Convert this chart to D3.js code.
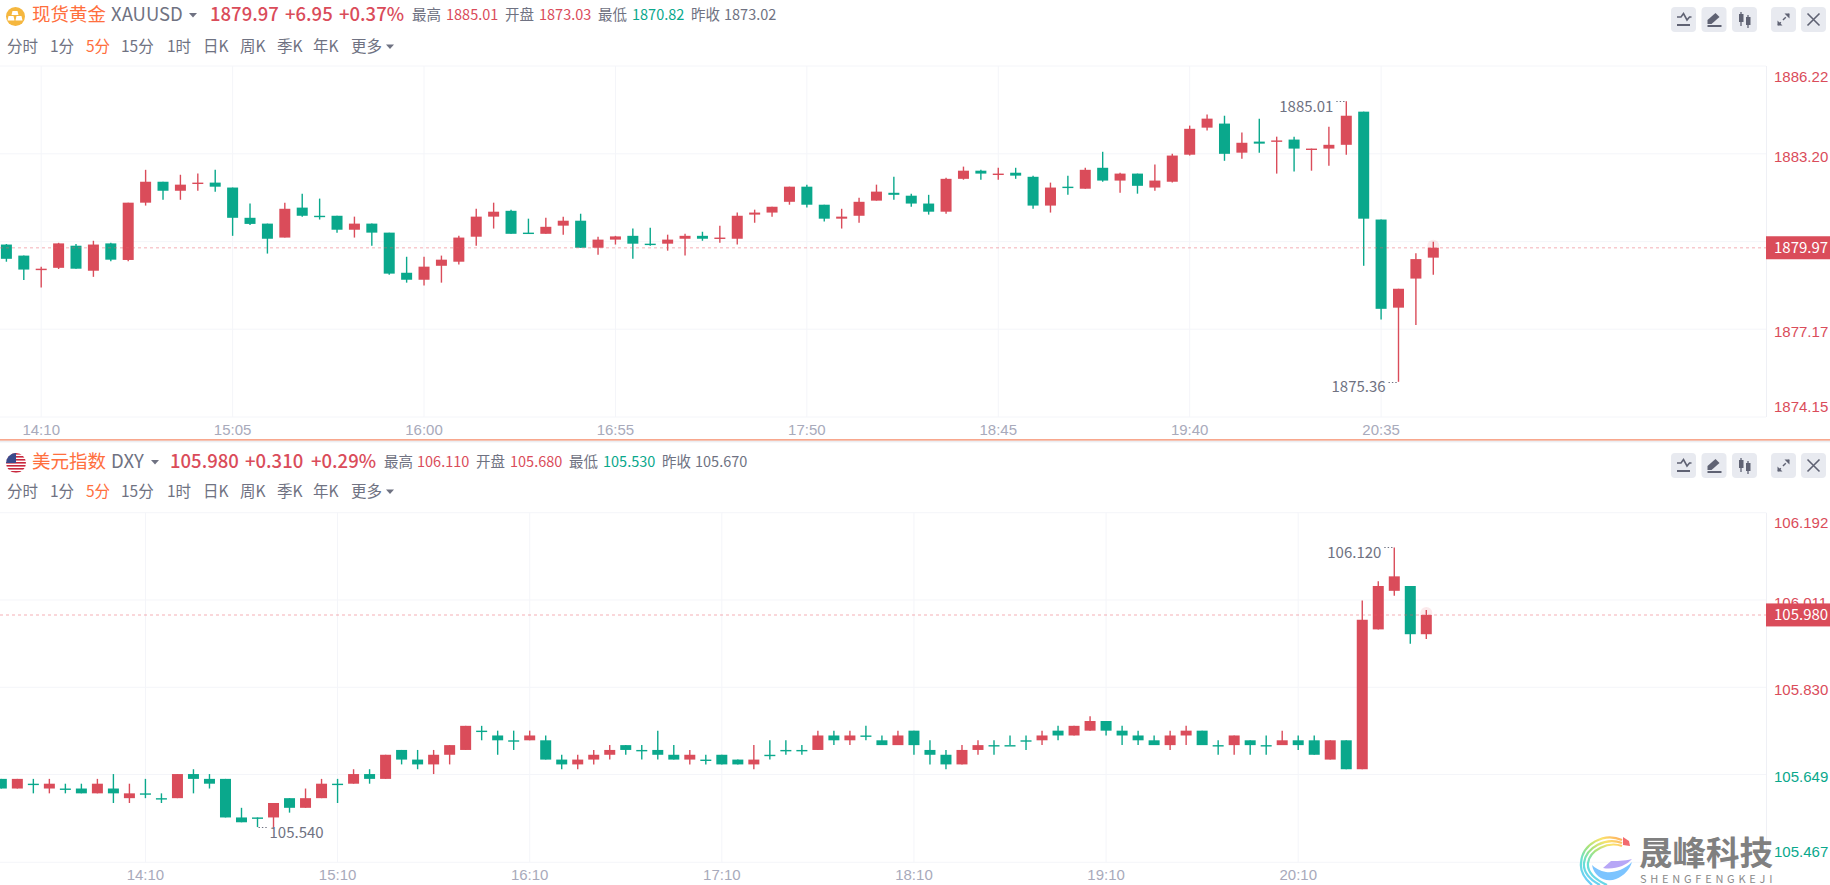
<!DOCTYPE html>
<html>
<head>
<meta charset="utf-8">
<script src="https://cdnjs.cloudflare.com/ajax/libs/d3/7.8.5/d3.min.js"></script>
<style>
  html, body { margin: 0; padding: 0; background: #fff; overflow: hidden; }
  svg { display: block; font-family: "Noto Sans CJK SC", "Noto Sans", sans-serif; }
</style>
</head>
<body>
<svg id="chart" width="1830" height="885"></svg>
<script>
// gold, 5 min candles
const goldOpen = [1880.08,1879.70,1879.20,1879.28,1880.04,1879.18,1880.12,1879.55,1881.52,1882.24,
  1881.93,1882.17,1882.21,1882.04,1881.00,1880.80,1880.32,1881.35,1881.07,1881.07,
  1880.59,1880.80,1880.49,1879.11,1878.87,1879.35,1879.49,1880.35,1881.04,1881.24,
  1880.49,1880.45,1880.73,1880.90,1879.97,1880.25,1880.38,1880.11,1880.11,1880.28,
  1880.38,1880.28,1880.28,1881.11,1881.18,1881.55,1882.07,1881.45,1880.97,1881.07,
  1881.59,1881.86,1881.76,1881.49,1881.21,1882.34,1882.62,1882.48,1882.55,1882.41,
  1881.42,1882.07,1882.00,1882.72,1882.28,1882.52,1882.04,1882.24,1883.17,1884.10,
  1884.24,1883.24,1883.62,1883.62,1883.69,1883.34,1883.38,1883.51,1884.65,1880.94,
  1877.91,1878.91,1879.63];
const goldClose = [1879.59,1879.22,1879.25,1880.12,1879.25,1880.08,1879.56,1881.52,1882.24,1881.93,
  1882.14,1882.21,1882.07,1881.00,1880.79,1880.28,1881.31,1881.07,1881.04,1880.59,
  1880.80,1880.49,1879.08,1878.87,1879.32,1879.56,1880.32,1881.04,1881.21,1880.45,
  1880.45,1880.69,1880.90,1879.97,1880.25,1880.36,1880.11,1880.08,1880.25,1880.38,
  1880.28,1880.32,1881.07,1881.18,1881.38,1882.07,1881.45,1880.97,1881.04,1881.55,
  1881.90,1881.79,1881.49,1881.21,1882.34,1882.62,1882.52,1882.52,1882.45,1881.42,
  1882.04,1882.04,1882.65,1882.28,1882.52,1882.10,1882.28,1883.14,1884.06,1884.41,
  1883.20,1883.58,1883.55,1883.66,1883.38,1883.38,1883.51,1884.51,1880.97,1877.87,
  1878.56,1879.58,1879.97];
const goldHigh = [1880.10,1879.70,1879.32,1880.14,1880.10,1880.21,1880.14,1881.52,1882.65,1882.24,
  1882.48,1882.52,1882.65,1882.04,1881.49,1880.80,1881.52,1881.83,1881.66,1881.07,
  1881.04,1880.80,1880.49,1879.66,1879.66,1879.70,1880.38,1881.31,1881.52,1881.28,
  1880.97,1881.00,1881.04,1881.14,1880.35,1880.38,1880.63,1880.66,1880.42,1880.45,
  1880.52,1880.73,1881.18,1881.28,1881.38,1882.07,1882.14,1881.45,1881.31,1881.69,
  1882.14,1882.41,1881.83,1881.79,1882.38,1882.76,1882.65,1882.72,1882.72,1882.45,
  1882.21,1882.45,1882.72,1883.27,1882.55,1882.52,1882.83,1883.20,1884.17,1884.55,
  1884.51,1883.93,1884.41,1883.79,1883.79,1883.38,1884.13,1885.01,1884.65,1880.94,
  1878.56,1879.78,1880.18];
const goldLow = [1879.49,1878.86,1878.60,1879.24,1879.25,1878.97,1879.51,1879.51,1881.42,1881.62,
  1881.62,1881.93,1881.90,1880.38,1880.75,1879.77,1880.32,1881.04,1880.94,1880.49,
  1880.32,1880.04,1879.04,1878.77,1878.67,1878.77,1879.39,1880.04,1880.63,1880.45,
  1880.45,1880.45,1880.42,1879.97,1879.73,1880.08,1879.59,1880.04,1879.87,1879.70,
  1880.21,1880.14,1880.08,1880.83,1881.04,1881.45,1881.35,1880.87,1880.63,1880.83,
  1881.59,1881.62,1881.38,1881.11,1881.14,1882.31,1882.31,1882.31,1882.34,1881.31,
  1881.18,1881.79,1882.00,1882.24,1881.86,1881.83,1881.93,1882.21,1883.14,1884.00,
  1882.96,1883.03,1883.24,1882.52,1882.59,1882.62,1882.79,1883.17,1879.35,1877.50,
  1875.36,1877.31,1879.04];
const goldPriceTicks = [1886.22, 1883.20, 1880.18, 1877.17, 1874.15];
const goldTimeIndex = [2, 13, 24, 35, 46, 57, 68, 79];
const goldTimeLabels = ["14:10", "15:05", "16:00", "16:55", "17:50", "18:45", "19:40", "20:35"];

// dollar index, 5 min candles
const dxyOpen = [105.64,105.62,105.63,105.62,105.62,105.62,105.61,105.62,105.60,105.61,
  105.60,105.60,105.65,105.64,105.64,105.56,105.56,105.56,105.60,105.58,
  105.60,105.63,105.63,105.65,105.64,105.70,105.68,105.67,105.69,105.70,
  105.74,105.73,105.72,105.72,105.72,105.68,105.67,105.68,105.69,105.71,
  105.70,105.70,105.69,105.68,105.68,105.69,105.68,105.67,105.69,105.70,
  105.70,105.70,105.73,105.72,105.73,105.72,105.71,105.74,105.70,105.69,
  105.67,105.70,105.71,105.71,105.72,105.72,105.74,105.73,105.74,105.76,
  105.74,105.73,105.72,105.71,105.73,105.74,105.71,105.71,105.72,105.71,
  105.71,105.72,105.72,105.68,105.72,105.66,105.95,106.03,106.04,105.94];
const dxyClose = [105.62,105.64,105.63,105.63,105.62,105.61,105.63,105.61,105.61,105.61,
  105.60,105.65,105.64,105.63,105.56,105.55,105.56,105.59,105.58,105.60,
  105.63,105.63,105.65,105.64,105.69,105.68,105.67,105.69,105.71,105.75,
  105.74,105.72,105.72,105.73,105.68,105.67,105.68,105.69,105.70,105.70,
  105.70,105.69,105.68,105.69,105.68,105.67,105.67,105.68,105.69,105.70,
  105.70,105.73,105.72,105.73,105.73,105.71,105.73,105.71,105.69,105.67,
  105.70,105.71,105.71,105.71,105.72,105.73,105.73,105.75,105.76,105.74,
  105.73,105.72,105.71,105.73,105.74,105.71,105.71,105.73,105.71,105.71,
  105.72,105.71,105.69,105.72,105.66,105.97,106.04,106.06,105.94,105.98];
const dxyHigh = [105.64,105.64,105.64,105.64,105.63,105.63,105.64,105.65,105.63,105.64,
  105.61,105.65,105.66,105.65,105.64,105.58,105.56,105.59,105.60,105.62,
  105.64,105.64,105.66,105.66,105.69,105.70,105.70,105.70,105.71,105.75,
  105.75,105.74,105.74,105.74,105.73,105.69,105.69,105.70,105.71,105.71,
  105.71,105.74,105.71,105.70,105.69,105.69,105.68,105.71,105.72,105.72,
  105.71,105.74,105.74,105.74,105.75,105.73,105.74,105.74,105.72,105.70,
  105.71,105.72,105.72,105.73,105.73,105.74,105.75,105.75,105.77,105.76,
  105.75,105.74,105.73,105.74,105.75,105.74,105.72,105.73,105.72,105.73,
  105.74,105.73,105.73,105.72,105.72,106.01,106.05,106.12,106.04,105.99];
const dxyLow = [105.62,105.62,105.61,105.61,105.61,105.61,105.61,105.59,105.59,105.60,
  105.59,105.60,105.61,105.62,105.56,105.55,105.54,105.54,105.57,105.58,
  105.60,105.59,105.63,105.63,105.64,105.67,105.66,105.65,105.67,105.70,
  105.72,105.69,105.70,105.72,105.68,105.66,105.66,105.67,105.68,105.69,
  105.68,105.68,105.68,105.67,105.67,105.67,105.67,105.66,105.68,105.69,
  105.69,105.70,105.71,105.71,105.72,105.71,105.71,105.69,105.67,105.66,
  105.67,105.69,105.69,105.71,105.70,105.71,105.72,105.73,105.74,105.73,
  105.71,105.71,105.71,105.70,105.71,105.71,105.69,105.69,105.69,105.69,
  105.71,105.70,105.69,105.68,105.66,105.66,105.95,106.02,105.92,105.93];
const dxyPriceTicks = [106.192, 106.011, 105.83, 105.649, 105.467];
const dxyTimeIndex = [9, 21, 33, 45, 57, 69, 81];
const dxyTimeLabels = ["14:10", "15:10", "16:10", "17:10", "18:10", "19:10", "20:10"];

const intervalLabels = ["分时", "1分", "5分", "15分", "1时", "日K", "周K", "季K", "年K", "更多"];

const goldHeader = ["现货黄金", "XAUUSD", "1879.97", "+6.95", "+0.37%", "最高", "1885.01", "开盘", "1873.03", "最低", "1870.82", "昨收", "1873.02"];
const dxyHeader = ["美元指数", "DXY", "105.980", "+0.310", "+0.29%", "最高", "106.110", "开盘", "105.680", "最低", "105.530", "昨收", "105.670"];

const red = "#da4c5a",
  green = "#0aa88c",
  orange = "#ff6f3d",
  gray = "#6f7282",
  timeGray = "#a8aabb",
  gridColor = "#f4f5f9";

const svg = d3.select("#chart");
const plotWidth = 1766;

function drawPanel(cfg) {
  const g = svg.append("g");
  const y = d3.scaleLinear().domain(cfg.yDomain).range(cfg.yRange);
  const x = d3.scaleLinear().domain(cfg.xDomain).range(cfg.xRange);
  const [bottom, top] = cfg.yRange;

  // price axis doubles as the horizontal grid
  const yAxis = d3
    .axisRight(y)
    .offset(0)
    .tickValues(cfg.priceTicks)
    .tickSize(-plotWidth)
    .tickPadding(8)
    .tickFormat((d) => d.toFixed(cfg.digits));
  const yG = g.append("g").attr("transform", `translate(${plotWidth},0)`).call(yAxis);
  yG.select(".domain").remove();
  yG.selectAll("line").attr("stroke", gridColor);
  const labelShift = [11, 3, 3, 3, -10];
  yG.selectAll("text")
    .attr("y", (d, i) => labelShift[i])
    .attr("fill", (d) => (d >= cfg.prevClose ? red : green))
    .style("font-size", "15px")
    .style("font-family", "inherit");

  const xAxis = d3
    .axisBottom(x)
    .offset(0)
    .tickValues(cfg.timeIndex)
    .tickSize(-(bottom - top))
    .tickPadding(7)
    .tickFormat((d, i) => cfg.timeLabels[i]);
  const xG = g.append("g").attr("transform", `translate(0,${bottom})`).call(xAxis);
  xG.select(".domain").remove();
  xG.selectAll("line").attr("stroke", gridColor);
  xG.selectAll("text").attr("fill", timeGray).style("font-size", "15px").style("font-family", "inherit");

  g.append("line")
    .attr("x1", plotWidth + 0.5)
    .attr("x2", plotWidth + 0.5)
    .attr("y1", top)
    .attr("y2", bottom)
    .attr("stroke", "#eff0f5");

  const candles = cfg.open.map((o, i) => ({
    i,
    o,
    c: cfg.close[i],
    h: cfg.high[i],
    l: cfg.low[i],
  }));
  const colorOf = (d) => (d.c > d.o ? red : green);

  const bars = g.append("g").selectAll("g").data(candles).enter().append("g");
  bars
    .append("line")
    .attr("x1", (d) => x(d.i))
    .attr("x2", (d) => x(d.i))
    .attr("y1", (d) => y(d.h))
    .attr("y2", (d) => y(d.l))
    .attr("stroke", colorOf)
    .attr("stroke-width", 1.4);
  bars
    .append("rect")
    .attr("x", (d) => x(d.i) - 5.5)
    .attr("width", 11)
    .attr("y", (d) => y(Math.max(d.o, d.c)))
    .attr("height", (d) => Math.max(Math.abs(y(d.o) - y(d.c)), 1.4))
    .attr("fill", colorOf);

  // glow on the live candle
  const last = candles[candles.length - 1];
  g.append("circle")
    .attr("cx", x(last.i))
    .attr("cy", y(last.c) - 2)
    .attr("r", 6)
    .attr("fill", red)
    .attr("opacity", 0.12);

  // last price line and tag
  const lastY = y(cfg.lastPrice);
  g.append("line")
    .attr("x1", 0)
    .attr("x2", plotWidth)
    .attr("y1", lastY)
    .attr("y2", lastY)
    .attr("stroke", "#ea5a68")
    .attr("stroke-opacity", 0.32)
    .attr("stroke-width", 1.4)
    .attr("stroke-dasharray", "3 3");
  g.append("rect")
    .attr("x", plotWidth)
    .attr("y", lastY - 11.5)
    .attr("width", 64)
    .attr("height", 23)
    .attr("fill", red);
  g.append("text")
    .attr("x", plotWidth + 8)
    .attr("y", lastY + 5.5)
    .attr("fill", "#fff")
    .style("font-size", "15px")
    .text(cfg.lastPrice.toFixed(cfg.digits));

  // high / low markers: dots run beside the wick, label sits next to them
  cfg.marks.forEach((m) => {
    const mx = x(m.i),
      my = y(m.value);
    g.append("line")
      .attr("x1", mx + m.dotFrom)
      .attr("x2", mx + m.dotTo)
      .attr("y1", Math.round(my) + 0.5)
      .attr("y2", Math.round(my) + 0.5)
      .attr("stroke", gray)
      .attr("stroke-width", 1.2)
      .attr("stroke-dasharray", "1.4 2");
    g.append("text")
      .attr("x", mx + m.textX)
      .attr("y", my + m.textY)
      .attr("fill", gray)
      .style("font-size", "15px")
      .text(m.value.toFixed(cfg.digits));
  });
}

function drawHeader(dy, texts, xs, tabDy, buttonDy) {
  const g = svg.append("g").attr("transform", `translate(0,${dy})`);
  const styles = [
    [orange, 18.5, 400],
    [gray, 18.5, 400],
    [red, 18.5, 500],
    [red, 18.5, 500],
    [red, 18.5, 500],
    [gray, 14.5, 400],
    [red, 14.5, 400],
    [gray, 14.5, 400],
    [red, 14.5, 400],
    [gray, 14.5, 400],
    [green, 14.5, 400],
    [gray, 14.5, 400],
    [gray, 14.5, 400],
  ];
  g.selectAll("text.head")
    .data(texts)
    .enter()
    .append("text")
    .attr("class", "head")
    .attr("x", (d, i) => xs[i])
    .attr("y", (d, i) => (styles[i][1] > 15 ? 21 : 20))
    .attr("fill", (d, i) => styles[i][0])
    .style("font-size", (d, i) => styles[i][1] + "px")
    .style("font-weight", (d, i) => styles[i][2])
    .text((d) => d);

  // caret after the symbol
  g.append("path").attr("d", `M${xs[13]},13 h8 l-4,4.5 z`).attr("fill", gray);

  const tabX = [7, 50, 86, 121, 167, 203, 240, 277, 313, 351];
  g.selectAll("text.tab")
    .data(intervalLabels)
    .enter()
    .append("text")
    .attr("class", "tab")
    .attr("x", (d, i) => tabX[i])
    .attr("y", 52 + tabDy)
    .attr("fill", (d) => (d === "5分" ? orange : gray))
    .style("font-size", "15.5px")
    .text((d) => d);
  g.append("path").attr("d", `M386,${44.5 + tabDy} h8 l-4,4.5 z`).attr("fill", gray);

  // toolbar
  const buttonX = [1671, 1701.5, 1732, 1771, 1801];
  const ink = "#5f6273";
  const icons = [
    (b) => {
      b.append("path").attr("d", "M6,10 h4 l2.5,-3.5 l3.5,6.5 l2.5,-3 h2").attr("fill", "none").attr("stroke", ink).attr("stroke-width", 1.6);
      b.append("rect").attr("x", 6).attr("y", 17).attr("width", 13).attr("height", 2).attr("fill", ink);
    },
    (b) => {
      b.append("path").attr("d", "M6,17 l0,-4 l8,-7 l4,4 l-8,7 z").attr("fill", ink);
      b.append("rect").attr("x", 6).attr("y", 18).attr("width", 14).attr("height", 2).attr("fill", ink);
    },
    (b) => {
      b.append("path").attr("d", "M9,5 v14 M16,8 v13").attr("stroke", ink).attr("stroke-width", 1.3);
      b.append("rect").attr("x", 7).attr("y", 7).attr("width", 4.5).attr("height", 8).attr("fill", ink);
      b.append("rect").attr("x", 14).attr("y", 10).attr("width", 4.5).attr("height", 8).attr("fill", ink);
    },
    (b) => {
      b.append("path").attr("d", "M7,18 L18,7").attr("stroke", ink).attr("stroke-width", 1.4).attr("stroke-dasharray", "4 3");
      b.append("path").attr("d", "M13.5,6.5 h5 v5 z M6.5,13.5 v5 h5 z").attr("fill", ink);
    },
    (b) => {
      b.append("path").attr("d", "M6.5,6.5 L18.5,18.5 M18.5,6.5 L6.5,18.5").attr("stroke", ink).attr("stroke-width", 1.6);
    },
  ];
  buttonX.forEach((bx, i) => {
    const b = g.append("g").attr("transform", `translate(${bx},${7 + buttonDy})`);
    b.append("rect").attr("width", 25).attr("height", 25).attr("rx", 4).attr("fill", "#e8eaf0");
    icons[i](b);
  });
}

drawHeader(0, goldHeader, [32, 111, 210, 285, 339, 412, 446, 505, 539, 598, 632, 691, 724, 189], 0, 0);
drawHeader(447, dxyHeader, [32, 111, 170, 245, 311, 384, 417, 476, 510, 569, 603, 662, 695, 151], -2, -1);

// coin icon
svg.append("circle").attr("cx", 15.5).attr("cy", 16.5).attr("r", 9.5).attr("fill", "#f5b73f");
svg
  .append("path")
  .attr("d", "M13,11 h5 l1,4 h-7 z M9,16 h5 l1,4.5 h-7 z M17,16 h5 l1,4.5 h-7 z")
  .attr("fill", "#fff")
  .attr("transform", "translate(-0.5,0)");

// flag icon
const flagClip = svg.append("clipPath").attr("id", "flagClip");
flagClip.append("circle").attr("cx", 16).attr("cy", 463).attr("r", 10);
const flag = svg.append("g").attr("clip-path", "url(#flagClip)");
flag.append("rect").attr("x", 6).attr("y", 453).attr("width", 20).attr("height", 20).attr("fill", "#fff");
d3.range(0, 7).forEach((k) => {
  flag.append("rect").attr("x", 6).attr("y", 453 + k * 3).attr("width", 20).attr("height", 1.6).attr("fill", "#c8283e");
});
flag.append("rect").attr("x", 6).attr("y", 453).attr("width", 10).attr("height", 10).attr("fill", "#3a4a8c");

drawPanel({
  open: goldOpen,
  close: goldClose,
  high: goldHigh,
  low: goldLow,
  yDomain: [1874.15, 1886.22],
  yRange: [417, 66],
  xDomain: [0, 82],
  xRange: [6.4, 1433.3],
  priceTicks: goldPriceTicks,
  timeIndex: goldTimeIndex,
  timeLabels: goldTimeLabels,
  digits: 2,
  prevClose: 1873.02,
  lastPrice: 1879.97,
  marks: [
    { i: 77, value: 1885.01, dotFrom: -10, dotTo: 0, textX: -67, textY: 11 },
    { i: 80, value: 1875.36, dotFrom: -10, dotTo: 0, textX: -67, textY: 10.5 },
  ],
});

drawPanel({
  open: dxyOpen,
  close: dxyClose,
  high: dxyHigh,
  low: dxyLow,
  yDomain: [105.467, 106.192],
  yRange: [862.3, 512.7],
  xDomain: [0, 89],
  xRange: [1.33, 1426.3],
  priceTicks: dxyPriceTicks,
  timeIndex: dxyTimeIndex,
  timeLabels: dxyTimeLabels,
  digits: 3,
  prevClose: 105.67,
  lastPrice: 105.98,
  marks: [
    { i: 87, value: 106.12, dotFrom: -10, dotTo: 0, textX: -67, textY: 11 },
    { i: 16, value: 105.54, dotFrom: 1, dotTo: 10, textX: 12, textY: 11 },
  ],
});

// divider between the two panels
svg.append("rect").attr("x", 0).attr("y", 439).attr("width", 1830).attr("height", 1.8).attr("fill", "#f8a78d");
svg.append("rect").attr("x", 0).attr("y", 440.8).attr("width", 1830).attr("height", 1.6).attr("fill", "#eceef2");

// watermark
const mark = svg.append("g");
const swirl = mark.append("g").attr("transform", "translate(1580,835)");
const swirlGrad = svg
  .append("linearGradient")
  .attr("id", "swirlGrad")
  .attr("gradientUnits", "userSpaceOnUse")
  .attr("x1", 44)
  .attr("y1", 0)
  .attr("x2", 12)
  .attr("y2", 50);
[
  [0, "#ff9a5c"],
  [0.25, "#fbe36c"],
  [0.5, "#a6e37c"],
  [0.75, "#66e0d4"],
  [1, "#6ccdfa"],
].forEach(([o, c]) => swirlGrad.append("stop").attr("offset", o).attr("stop-color", c));
[
  ["M42,5 C24,-3 2,9 1,28 C0,36 5,44 12,50", 2.2],
  ["M42,8 C26,2 6,12 4,28 C3,37 10,45 20,50", 2.2],
  ["M42,11 C28,6 10,15 8,28 C7,36 14,44 27,50", 2.2],
].forEach(([d, w]) => {
  swirl.append("path").attr("d", d).attr("fill", "none").attr("stroke", "url(#swirlGrad)").attr("stroke-width", w);
});
swirl.append("path").attr("d", "M12,30 C14,42 26,48 36,44 C44,41 50,34 52,27 C44,35 34,38 26,37 C20,36 15,33 12,30 Z").attr("fill", "#7cc4ff");
swirl.append("path").attr("d", "M52,24 C44,26 36,26 31,26 L23,33 C34,35 46,31 52,24 Z").attr("fill", "#b7a6f6");
swirl.append("path").attr("d", "M43,2 L49,6 L50,11 L43,10 Z").attr("fill", "#f26a6f");
mark
  .append("text")
  .attr("x", 1639)
  .attr("y", 865)
  .attr("fill", "#808080")
  .style("font-size", "33.5px")
  .style("font-weight", 700)
  .text("晟峰科技");
mark
  .append("text")
  .attr("x", 1640)
  .attr("y", 883)
  .attr("fill", "#8a8a8a")
  .style("font-size", "11px")
  .style("letter-spacing", "3.75px")
  .text("SHENGFENGKEJI");
</script>
</body>
</html>
